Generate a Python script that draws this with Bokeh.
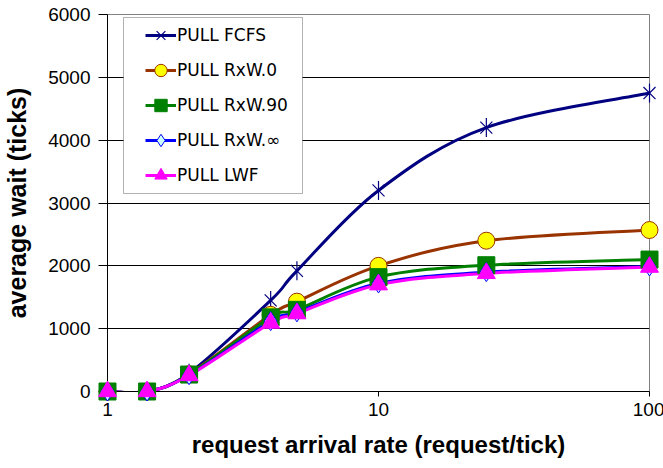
import numpy as np
from bokeh.plotting import figure
from bokeh.models import (FixedTicker, Legend, LegendItem, BoxAnnotation,
                          BasicTickFormatter, ColumnDataSource)
from bokeh.embed import file_html
from bokeh.resources import INLINE

# ---------------- data ----------------
rates = [1, 1.4, 2, 4, 5, 10, 25, 100]
pull_fcfs = [0, 0, 290, 1450, 1920, 3200, 4200, 4750]
pull_rxw0 = [0, 0, 275, 1220, 1430, 2000, 2400, 2570]
pull_rxw90 = [0, 0, 270, 1180, 1300, 1820, 2010, 2100]
pull_rxwinf = [0, 0, 260, 1120, 1260, 1720, 1900, 1990]
pull_lwf = [0, 0, 255, 1090, 1240, 1700, 1880, 1980]
series_names = ["PULL FCFS", "PULL RxW.0", "PULL RxW.90", "PULL RxW.\u221e", "PULL LWF"]
x_ticks = [1, 10, 100]
y_ticks = [0, 1000, 2000, 3000, 4000, 5000, 6000]

FONT = "Liberation Sans"

p = figure(x_axis_type="log", x_range=(x_ticks[0], x_ticks[-1]),
           y_range=(y_ticks[0], y_ticks[-1]),
           frame_width=542, frame_height=377,
           min_border_left=106, min_border_right=15,
           min_border_top=14, min_border_bottom=77,
           output_backend="svg", toolbar_location=None)
p.background_fill_color = "white"
p.border_fill_color = "white"
p.outline_line_color = "#808080"
p.outline_line_width = 1


def smooth_segments(xs, ys):
    """Bezier control points (Catmull-Rom style, as a smoothed line) in log-x space."""
    lx = np.log10(np.asarray(xs, float))
    y = np.asarray(ys, float)
    pl = np.concatenate([[lx[0]], lx, [lx[-1]]])
    py = np.concatenate([[y[0]], y, [y[-1]]])
    n = len(lx)
    d = dict(x0=[], y0=[], x1=[], y1=[], cx0=[], cy0=[], cx1=[], cy1=[])
    for i in range(n - 1):
        d["x0"].append(10 ** lx[i]); d["y0"].append(y[i])
        d["x1"].append(10 ** lx[i + 1]); d["y1"].append(y[i + 1])
        d["cx0"].append(10 ** (lx[i] + (pl[i + 2] - pl[i]) / 6))
        d["cy0"].append(y[i] + (py[i + 2] - py[i]) / 6)
        d["cx1"].append(10 ** (lx[i + 1] - (pl[i + 3] - pl[i + 1]) / 6))
        d["cy1"].append(y[i + 1] - (py[i + 3] - py[i + 1]) / 6)
    return ColumnDataSource(d)


# each marker is a list of (marker, size, angle) layers
styles = [
    dict(line="#000080", markers=[("x", 17, 0.0), ("dash", 19, np.pi / 2)],
         fill="#000080", mline="#000080", mlw=1.2),
    dict(line="#993300", markers=[("circle", 17, 0.0)], fill="#FFFF00", mline="#993300", mlw=1),
    dict(line="#008000", markers=[("square", 17, 0.0)], fill="#008000", mline="#008000", mlw=1),
    dict(line="#0000FF", markers=[("diamond", 19, 0.0)], fill="#CCFFFF", mline="#0000FF", mlw=1),
    dict(line="#FF00FF", markers=[("triangle", 18, 0.0)], fill="#FF00FF", mline="#FF00FF", mlw=1),
]
all_series = [pull_fcfs, pull_rxw0, pull_rxw90, pull_rxwinf, pull_lwf]

items = []
for name, vals, st in zip(series_names, all_series, styles):
    src = smooth_segments(rates, vals)
    lr = p.bezier(x0="x0", y0="y0", x1="x1", y1="y1", cx0="cx0", cy0="cy0",
                  cx1="cx1", cy1="cy1", source=src, line_color=st["line"], line_width=3)
    rs = [lr]
    for mk, sz, ang in st["markers"]:
        mr = p.scatter(rates, vals, marker=mk, size=sz, angle=ang,
                       fill_color=st["fill"], line_color=st["mline"], line_width=st["mlw"],
                       level="overlay")
        rs.append(mr)
    items.append(LegendItem(label=name, renderers=rs))

# legend frame
box = BoxAnnotation(left=123, right=302, top=17, bottom=193,
                    left_units="canvas", right_units="canvas",
                    top_units="canvas", bottom_units="canvas",
                    fill_color="white", fill_alpha=1,
                    line_color="black", line_width=1, level="annotation")
p.add_layout(box)

legend = Legend(items=items, location=(38, 200), margin=0, padding=0,
                glyph_width=31, glyph_height=32, label_height=32, spacing=3,
                label_standoff=1, label_text_font="DejaVu Sans",
                label_text_font_size="17px", label_text_color="black",
                background_fill_alpha=0, border_line_alpha=0)
p.add_layout(legend)

# axes
p.xaxis.ticker = FixedTicker(ticks=x_ticks)
p.xaxis.formatter = BasicTickFormatter()
p.yaxis.ticker = FixedTicker(ticks=y_ticks)
for ax in (p.xaxis[0], p.yaxis[0]):
    ax.axis_line_color = "black"
    ax.axis_line_width = 1
    ax.major_tick_line_color = "black"
    ax.major_tick_in = 0
    ax.minor_tick_line_color = None
    ax.major_label_text_font = FONT
    ax.major_label_text_font_size = "19px"
    ax.major_label_text_color = "black"
    ax.axis_label_text_font = FONT
    ax.axis_label_text_font_style = "bold"
    ax.axis_label_text_color = "black"
p.xaxis.major_tick_out = 5
p.yaxis.major_tick_out = 9
p.xaxis.major_label_standoff = 6
p.yaxis.major_label_standoff = 8
p.xaxis.axis_label = "request arrival rate (request/tick)"
p.yaxis.axis_label = "average wait (ticks)"
p.xaxis.axis_label_text_font_size = "24px"
p.yaxis.axis_label_text_font_size = "25px"
p.xaxis.axis_label_standoff = 12
p.yaxis.axis_label_standoff = 14

p.xgrid.grid_line_color = None
p.ygrid.ticker = FixedTicker(ticks=y_ticks[1:-1])
p.ygrid.grid_line_color = "black"
p.ygrid.grid_line_width = 1

open("out.html", "w").write(file_html(p, INLINE))
